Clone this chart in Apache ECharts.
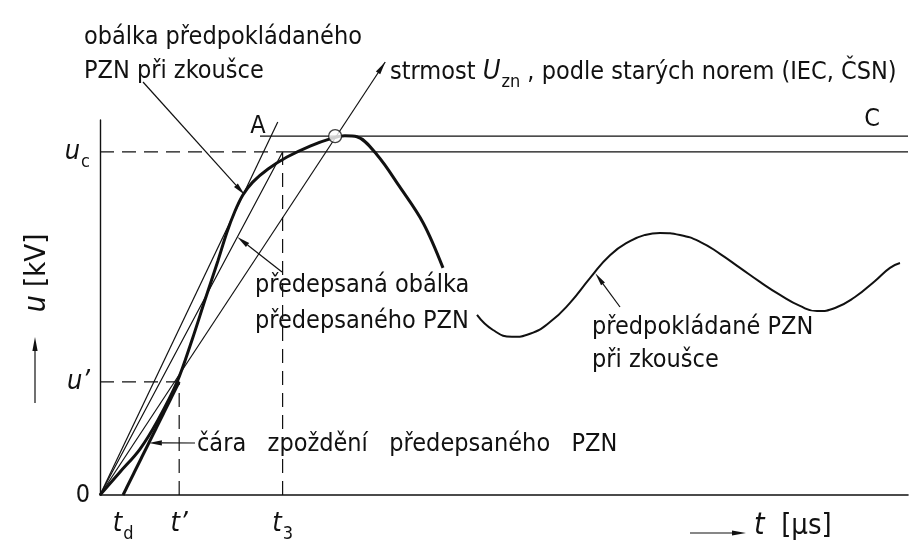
<!DOCTYPE html>
<html>
<head>
<meta charset="utf-8">
<script src="https://cdn.jsdelivr.net/npm/echarts@6/dist/echarts.min.js"></script>
<style>
  html, body { margin: 0; padding: 0; background: #fff; }
  #chart { width: 914px; height: 549px; }
</style>
</head>
<body>
<div id="chart"></div>
<script>
// Prospective TRV during the test: rise to the first peak and its decay
const riseT = [0, 2.48, 4.95, 7.18, 9.53, 11.39, 13.0, 14.6, 15.7, 16.7, 17.7, 18.9, 20.8, 23.14, 26.0, 28.47, 30.3, 31.8, 34.3, 37.1, 40.0, 42.45];
const riseU = [0, 6.7, 13.4, 21.9, 32.9, 45.2, 56.9, 68.3, 76.5, 82.7, 87.5, 91.2, 95.0, 98.5, 101.7, 103.8, 104.7, 104.4, 99.1, 89.8, 79.3, 66.2];

// Later oscillation of the prospective TRV
const tailT = [46.66, 48.64, 50.99, 53.22, 55.69, 58.17, 60.64, 63.12, 65.59, 67.45, 69.31, 71.78, 74.26, 76.73, 79.21, 81.68, 84.16, 86.63, 88.74, 90.97, 93.44, 95.92, 97.77, 99.01];
const tailU = [52.5, 48.1, 46.1, 47.0, 50.4, 56.0, 63.2, 69.9, 74.0, 75.8, 76.4, 75.8, 73.8, 70.3, 66.2, 62.1, 58.3, 55.1, 53.6, 54.5, 57.7, 62.4, 66.2, 67.6];

// Characteristic parameters of the prescribed TRV
const uc = 100, uPrime = 33.0;
const tD = 2.85, tPrime = 9.8, t3 = 22.6;

// Envelope of the prospective TRV (tangent line A, peak level C) and the old-standard rate line
const peakT = 29.1, peakU = 104.6;
const tangentEndT = 22.0, tangentEndU = 108.7;
const cLineStartT = 19.8;
const rateEndT = 35.3, rateEndU = 126.2;

// Axis extents
const tMax = 100, uMax = 109.3;

// Tick labels
const tTicks = [tD, tPrime, t3];
const tTickLabels = ['{i|t}{s|d}', '{i|t}{i|’}', '{i|t}{s|3}'];
const uTicks = [0, uPrime, uc];
const uTickLabels = ['{n|0}', '{i|u}{i|’}', '{i|u}{s|c}'];

const FONT = '"DejaVu Sans Condensed", "DejaVu Sans", sans-serif';
const INK = '#111';
const TEXT_SIZE = 25;

const zip = (a, b) => a.map((v, i) => [v, b[i]]);
const pick = (vals, labels) => v => {
  for (let i = 0; i < vals.length; i++) if (Math.abs(vals[i] - v) < 1e-6) return labels[i];
  return '';
};
const rich = {
  i: { fontFamily: FONT, fontStyle: 'italic', fontSize: 27, color: INK, lineHeight: 32, verticalAlign: 'middle' },
  s: { fontFamily: FONT, fontSize: 18, color: INK, lineHeight: 32, verticalAlign: 'bottom', padding: [0, 0, -3, 1] },
  n: { fontFamily: FONT, fontSize: TEXT_SIZE, color: INK, lineHeight: 32 },
  ti: { fontFamily: FONT, fontStyle: 'italic', fontSize: 30, color: INK, lineHeight: 36 },
  tn: { fontFamily: FONT, fontSize: 29, color: INK, lineHeight: 36 }
};

function lineSeries(data, width, dashed, smooth) {
  return {
    type: 'line', data, symbol: 'none', smooth: smooth || false, clip: false, silent: true,
    lineStyle: { color: INK, width, type: dashed ? [14, 8] : 'solid' }, z: 3
  };
}

const chart = echarts.init(document.getElementById('chart'), null, { renderer: 'canvas' });

chart.setOption({
  animation: false,
  backgroundColor: '#fff',
  grid: { left: 100, right: 6, top: 120, bottom: 54 },
  xAxis: {
    type: 'value', min: 0, max: tMax,
    axisLine: { lineStyle: { color: INK, width: 1.6 } },
    axisTick: { show: false }, splitLine: { show: false },
    axisLabel: { customValues: tTicks, formatter: pick(tTicks, tTickLabels), margin: 13, rich }
  },
  yAxis: {
    type: 'value', min: 0, max: uMax,
    axisLine: { show: true, lineStyle: { color: INK, width: 1.4 } },
    axisTick: { show: false }, splitLine: { show: false },
    axisLabel: { customValues: uTicks, formatter: pick(uTicks, uTickLabels), margin: 10, rich }
  },
  series: [
    // dashed construction lines
    lineSeries([[0, uc], [t3, uc]], 1.2, true),
    lineSeries([[t3, 0], [t3, uc]], 1.2, true),
    lineSeries([[0, uPrime], [tPrime, uPrime]], 1.2, true),
    lineSeries([[tPrime, 0], [tPrime, uPrime]], 1.2, true),
    // prescribed envelope of the prescribed TRV
    lineSeries([[0, 0], [t3, uc], [tMax, uc]], 1.2),
    // tangent line A and peak level C
    lineSeries([[0, 0], [tangentEndT, tangentEndU]], 1.2),
    lineSeries([[cLineStartT, peakU], [tMax, peakU]], 1.2),
    // rate of rise per the old standards
    lineSeries([[0, 0], [rateEndT, rateEndU]], 1.2),
    // delay line of the prescribed TRV
    lineSeries([[tD, 0], [tPrime, uPrime]], 3),
    // prospective TRV
    lineSeries(zip(riseT, riseU), 3, false, 0.35),
    lineSeries(zip(tailT, tailU), 2, false, 0.5),
    {
      type: 'scatter', data: [[peakT, peakU]], symbol: 'circle', symbolSize: 13, silent: true, z: 6,
      itemStyle: { color: '#fff', borderColor: INK, borderWidth: 1.3 }
    }
  ]
});

const px = (t, u) => chart.convertToPixel({ gridIndex: 0 }, [t, u]);

function head(from, to, len, half) {
  const dx = to[0] - from[0], dy = to[1] - from[1];
  const l = Math.hypot(dx, dy), ux = dx / l, uy = dy / l;
  const bx = to[0] - ux * len, by = to[1] - uy * len;
  return { base: [bx, by], points: [to, [bx - uy * half, by + ux * half], [bx + uy * half, by - ux * half]] };
}
function arrow(from, to, len, half) {
  const h = head(from, to, len, half);
  return [
    { type: 'line', shape: { x1: from[0], y1: from[1], x2: h.base[0], y2: h.base[1] }, style: { stroke: INK, lineWidth: 1.2 }, z: 10 },
    { type: 'polygon', shape: { points: h.points }, style: { fill: INK }, z: 10 }
  ];
}
function label(text, x, y, opts) {
  opts = opts || {};
  return {
    type: 'text', x, y, rotation: opts.rotation || 0, z: 12,
    style: {
      text, fill: INK, fontFamily: FONT, fontSize: opts.size || TEXT_SIZE,
      align: opts.align || 'left', verticalAlign: 'middle',
      textAlign: opts.align || 'left', textVerticalAlign: 'middle',
      rich: opts.rich
    }
  };
}

const graphics = [].concat(
  // arrowhead on the rate-of-rise line
  [{ type: 'polygon', shape: { points: head(px(rateEndT * 0.9, rateEndU * 0.9), px(rateEndT, rateEndU), 13, 2.6).points }, style: { fill: INK }, z: 10 }],
  arrow([143, 82], px(17.9, 87.5), 13, 2.6),
  arrow([282, 272], px(t3 * 0.752, uc * 0.752), 13, 2.6),
  arrow([195, 443], px(tD + (tPrime - tD) * 0.46, uPrime * 0.46), 13, 2.6),
  arrow([620, 307], px(61.3, 64.6), 13, 2.4),
  // axis direction arrows
  arrow([35, 403], [35, 337], 14, 2.6),
  arrow([690, 533], [746, 533], 14, 2.6),
  [
    label('obálka předpokládaného', 84, 37),
    label('PZN při zkoušce', 84, 71),
    label('{n|strmost }{i|U}{s|zn}{n| , podle starých norem (IEC, ČSN)}', 390, 72, { rich }),
    label('A', 258, 126, { align: 'center' }),
    label('C', 872, 119, { align: 'center' }),
    label('předepsaná obálka', 255, 285),
    label('předepsaného PZN', 255, 321),
    label('předpokládané PZN', 592, 327),
    label('při zkoušce', 592, 360),
    label('čára   zpoždění   předepsaného   PZN', 197, 444),
    label('{ti|u}{tn| [kV]}', 37, 273, { rotation: Math.PI / 2, align: 'center', rich }),
    label('{ti|t}{tn|  [µs]}', 754, 526, { rich })
  ]
);

chart.setOption({ graphic: { elements: graphics } });
</script>
</body>
</html>
